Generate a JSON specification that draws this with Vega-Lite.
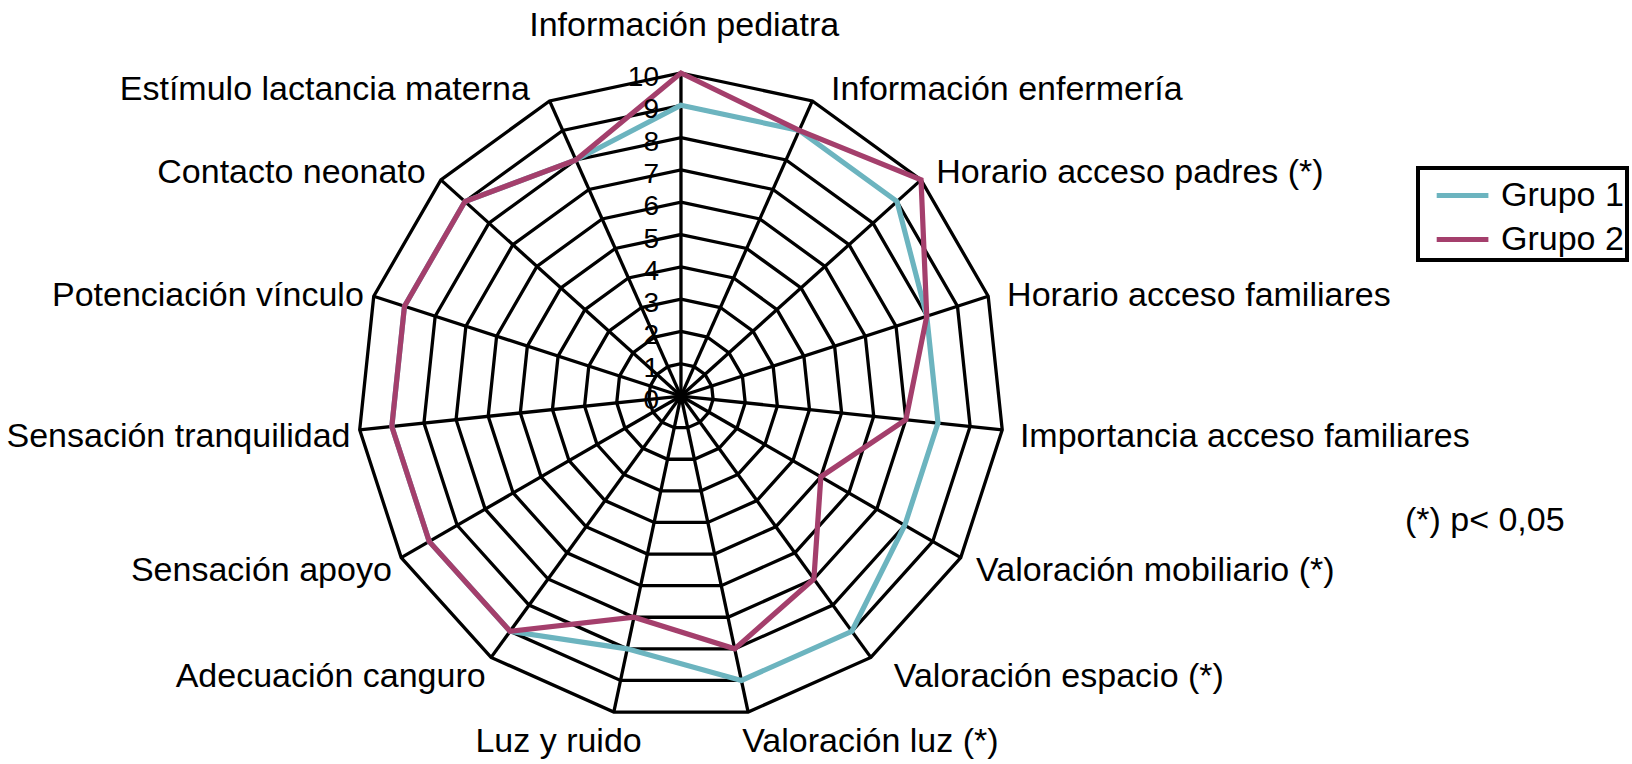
{
  "$schema": "https://vega.github.io/schema/vega-lite/v6.json",
  "width": 1632,
  "height": 764,
  "autosize": {"type": "none"},
  "padding": 0,
  "background": "white",
  "config": {"view": {"stroke": null}, "font": "Liberation Sans", "text": {"font": "Liberation Sans", "color": "black"}},
  "datasets": {
    "cats": [
      {"idx": 0, "cat": "Información pediatra", "Grupo 1": 9, "Grupo 2": 10},
      {"idx": 1, "cat": "Información enfermería", "Grupo 1": 9, "Grupo 2": 9},
      {"idx": 2, "cat": "Horario acceso padres (*)", "Grupo 1": 9, "Grupo 2": 10},
      {"idx": 3, "cat": "Horario acceso familiares", "Grupo 1": 8, "Grupo 2": 8},
      {"idx": 4, "cat": "Importancia acceso familiares", "Grupo 1": 8, "Grupo 2": 7},
      {"idx": 5, "cat": "Valoración mobiliario (*)", "Grupo 1": 8, "Grupo 2": 5},
      {"idx": 6, "cat": "Valoración espacio (*)", "Grupo 1": 9, "Grupo 2": 7},
      {"idx": 7, "cat": "Valoración luz (*)", "Grupo 1": 9, "Grupo 2": 8},
      {"idx": 8, "cat": "Luz y ruido", "Grupo 1": 8, "Grupo 2": 7},
      {"idx": 9, "cat": "Adecuación canguro", "Grupo 1": 9, "Grupo 2": 9},
      {"idx": 10, "cat": "Sensación apoyo", "Grupo 1": 9, "Grupo 2": 9},
      {"idx": 11, "cat": "Sensación tranquilidad", "Grupo 1": 9, "Grupo 2": 9},
      {"idx": 12, "cat": "Potenciación vínculo", "Grupo 1": 9, "Grupo 2": 9},
      {"idx": 13, "cat": "Contacto neonato", "Grupo 1": 9, "Grupo 2": 9},
      {"idx": 14, "cat": "Estímulo lactancia materna", "Grupo 1": 8, "Grupo 2": 8}
    ],
    "levels": [
      {"level": 0}, {"level": 1}, {"level": 2}, {"level": 3}, {"level": 4}, {"level": 5},
      {"level": 6}, {"level": 7}, {"level": 8}, {"level": 9}, {"level": 10}
    ],
    "note": [{"text": "(*) p< 0,05"}]
  },
  "encoding": {
    "x": {"field": "x", "type": "quantitative", "scale": {"domain": [-21.08, 29.44], "nice": false, "zero": false}, "axis": null},
    "y": {"field": "y", "type": "quantitative", "scale": {"domain": [-11.39, 12.26], "nice": false, "zero": false}, "axis": null}
  },
  "layer": [
    {
      "data": {"name": "cats"},
      "transform": [
        {"calculate": "[1,2,3,4,5,6,7,8,9,10]", "as": "ring"},
        {"flatten": ["ring"]},
        {"calculate": "datum.ring*sin(datum.idx*2*PI/15)", "as": "x"},
        {"calculate": "datum.ring*cos(datum.idx*2*PI/15)", "as": "y"}
      ],
      "mark": {"type": "line", "interpolate": "linear-closed", "color": "black", "strokeWidth": 3.3},
      "encoding": {"detail": {"field": "ring"}, "order": {"field": "idx", "type": "quantitative"}}
    },
    {
      "data": {"name": "cats"},
      "transform": [
        {"calculate": "10*sin(datum.idx*2*PI/15)", "as": "x"},
        {"calculate": "10*cos(datum.idx*2*PI/15)", "as": "y"},
        {"calculate": "0", "as": "x0"},
        {"calculate": "0", "as": "y0"}
      ],
      "mark": {"type": "rule", "color": "black", "strokeWidth": 3.3},
      "encoding": {"x2": {"field": "x0"}, "y2": {"field": "y0"}}
    },
    {
      "data": {"name": "cats"},
      "transform": [
        {"fold": ["Grupo 1", "Grupo 2"], "as": ["grupo", "valor"]},
        {"calculate": "datum.valor*sin(datum.idx*2*PI/15)", "as": "x"},
        {"calculate": "datum.valor*cos(datum.idx*2*PI/15)", "as": "y"}
      ],
      "mark": {"type": "line", "interpolate": "linear-closed", "strokeWidth": 5.2},
      "encoding": {
        "order": {"field": "idx", "type": "quantitative"},
        "color": {
          "field": "grupo", "type": "nominal",
          "scale": {"domain": ["Grupo 1", "Grupo 2"], "range": ["#6cb4bf", "#a43f6c"]},
          "legend": {
            "orient": "none", "legendX": 1418, "legendY": 168, "title": null,
            "symbolType": "M -0.4 0 H 1.95", "symbolSize": 1936, "symbolStrokeWidth": 5,
            "labelFontSize": 34, "labelFont": "Liberation Sans", "labelColor": "black",
            "labelOffset": 31, "padding": 3, "rowPadding": 2,
            "strokeColor": "black", "fillColor": "white",
            "encode": {"legend": {"update": {"strokeWidth": {"value": 4}}}}
          }
        }
      }
    },
    {
      "data": {"name": "levels"},
      "transform": [
        {"calculate": "0", "as": "x"},
        {"calculate": "datum.level", "as": "y"}
      ],
      "mark": {"type": "text", "align": "right", "baseline": "middle", "dx": -22, "dy": 5, "fontSize": 28},
      "encoding": {"text": {"field": "level", "type": "nominal"}}
    },
    {
      "data": {"name": "cats"},
      "transform": [
        {"filter": "datum.idx == 0"},
        {"calculate": "0.1", "as": "x"},
        {"calculate": "11.55", "as": "y"}
      ],
      "mark": {"type": "text", "align": "center", "baseline": "middle", "fontSize": 34, "dy": 3},
      "encoding": {"text": {"field": "cat"}}
    },
    {
      "data": {"name": "cats"},
      "transform": [
        {"filter": "datum.idx >= 1 && datum.idx <= 6"},
        {"calculate": "10.55*sin(datum.idx*2*PI/15) + [0, 11.5, 2, 2, 0, 0, 12.5][datum.idx]/32.3", "as": "x"},
        {"calculate": "10.55*cos(datum.idx*2*PI/15)", "as": "y"}
      ],
      "mark": {"type": "text", "align": "left", "baseline": "middle", "fontSize": 34, "dy": 5},
      "encoding": {"text": {"field": "cat"}}
    },
    {
      "data": {"name": "cats"},
      "transform": [
        {"filter": "datum.idx == 7"},
        {"calculate": "10.9*sin(datum.idx*2*PI/15)", "as": "x"},
        {"calculate": "10.9*cos(datum.idx*2*PI/15)", "as": "y"}
      ],
      "mark": {"type": "text", "align": "left", "baseline": "middle", "fontSize": 34, "dx": -12, "dy": 2},
      "encoding": {"text": {"field": "cat"}}
    },
    {
      "data": {"name": "cats"},
      "transform": [
        {"filter": "datum.idx >= 9"},
        {"calculate": "10.55*sin(datum.idx*2*PI/15) + [5, 6, 8.5, 7, -2, -12.5][datum.idx - 9]/32.3", "as": "x"},
        {"calculate": "10.55*cos(datum.idx*2*PI/15)", "as": "y"}
      ],
      "mark": {"type": "text", "align": "right", "baseline": "middle", "fontSize": 34, "dy": 5},
      "encoding": {"text": {"field": "cat"}}
    },
    {
      "data": {"name": "cats"},
      "transform": [
        {"filter": "datum.idx == 8"},
        {"calculate": "10.9*sin(datum.idx*2*PI/15)", "as": "x"},
        {"calculate": "10.9*cos(datum.idx*2*PI/15)", "as": "y"}
      ],
      "mark": {"type": "text", "align": "right", "baseline": "middle", "fontSize": 34, "dx": 34, "dy": 2},
      "encoding": {"text": {"field": "cat"}}
    },
    {
      "data": {"name": "note"},
      "transform": [
        {"calculate": "22.41", "as": "x"},
        {"calculate": "-3.78", "as": "y"}
      ],
      "mark": {"type": "text", "align": "left", "baseline": "middle", "fontSize": 34, "dy": 3},
      "encoding": {"text": {"field": "text"}}
    }
  ]
}
